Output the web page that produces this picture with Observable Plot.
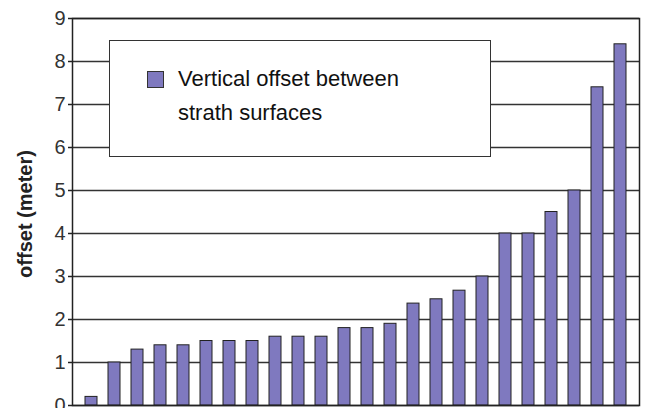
<!DOCTYPE html>
<html>
<head>
<meta charset="utf-8">
<script src="https://cdn.jsdelivr.net/npm/d3@7"></script>
<script src="https://cdn.jsdelivr.net/npm/@observablehq/plot@0.6"></script>
<style>
  html, body { margin: 0; padding: 0; background: #fff; }
  #wrap { position: relative; width: 645px; height: 408px; overflow: hidden; font-family: "Liberation Sans", Arial, sans-serif; }
  #legend { position: absolute; left: 109px; top: 40px; width: 380px; height: 115px; background: #fff; border: 1.5px solid #333; box-sizing: content-box; }
  #legend .sw { position: absolute; left: 37px; top: 30px; width: 15px; height: 15px; background: #7f79bf; border: 1px solid #333; }
  #legend .tx { position: absolute; left: 68px; top: 21px; font-size: 22px; line-height: 34px; color: #111; white-space: nowrap; }
</style>
</head>
<body>
<div id="wrap"></div>
<script>
// Data
const sites = d3.range(1, 25);
const offsets = [0.2, 1.0, 1.3, 1.4, 1.4, 1.5, 1.5, 1.5, 1.6, 1.6, 1.6, 1.8,
                 1.8, 1.9, 2.37, 2.47, 2.67, 3.0, 4.0, 4.0, 4.5, 5.0, 7.4, 8.4];
const yTicks = [0, 1, 2, 3, 4, 5, 6, 7, 8, 9];
const yLabel = "offset (meter)";
const legendText = ["Vertical offset between", "strath surfaces"];

const data = sites.map((s, i) => ({site: s, offset: offsets[i]}));

const chart = Plot.plot({
  width: 645,
  height: 408,
  marginLeft: 72,
  marginRight: 6,
  marginTop: 18,
  marginBottom: 3,
  style: {fontFamily: "Liberation Sans, Arial, sans-serif", fontSize: "20px", color: "#333", overflow: "visible"},
  x: {domain: sites, padding: 0.5, axis: null},
  y: {domain: [0, 9], ticks: yTicks, label: null},
  marks: [
    Plot.ruleY(yTicks, {stroke: "#333", strokeWidth: 1.5}),
    Plot.barY(data, {x: "site", y: "offset", fill: "#7f79bf", stroke: "#222", strokeWidth: 1}),
    Plot.frame({stroke: "#222", strokeWidth: 1.5}),
    Plot.axisY({ticks: yTicks, tickSize: 4, tickPadding: 3, tickFormat: d3.format("d"), stroke: "#222", strokeWidth: 1.5, fontSize: 20, label: null})
  ]
});

const wrap = document.getElementById("wrap");
wrap.appendChild(chart);

// y-axis title
const svg = d3.select(chart);
svg.append("text")
  .attr("transform", "translate(27,214) rotate(-90)")
  .attr("text-anchor", "middle")
  .attr("dominant-baseline", "middle")
  .attr("font-weight", "bold")
  .attr("font-size", 20)
  .attr("fill", "#222")
  .text(yLabel);

// legend
const leg = document.createElement("div");
leg.id = "legend";
leg.innerHTML = `<div class="sw"></div><div class="tx">${legendText.join("<br>")}</div>`;
wrap.appendChild(leg);
</script>
</body>
</html>
